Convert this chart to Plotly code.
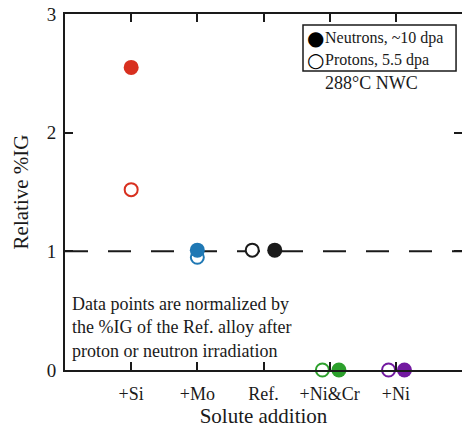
import plotly.graph_objects as go

# Solute additions (x categories) and relative %IG values
categories = ["+Si", "+Mo", "Ref.", "+Ni&Cr", "+Ni"]
neutron_ig = [2.55, 1.01, 1.01, 0.0, 0.0]
proton_ig = [1.52, 0.95, 1.01, 0.0, 0.0]
point_colors = ["#d8301f", "#1f78b4", "#1a1a1a", "#2ca02c", "#7219a0"]
y_ticks = [0, 1, 2, 3]
legend_labels = ["Neutrons, ~10 dpa", "Protons, 5.5 dpa"]
legend_glyphs = ["●", "○"]

# small horizontal dodge so overlapping neutron/proton points stay visible
neutron_dodge = [0.0, 0.0, 0.17, 0.14, 0.13]
proton_dodge = [0.0, 0.0, -0.17, -0.11, -0.11]

xpos = list(range(1, len(categories) + 1))
FONT = "Liberation Serif"
INK = "#1a1a1a"

fig = go.Figure()

# reference line at relative %IG = 1
fig.add_trace(go.Scatter(
    x=[0, 6], y=[1, 1], mode="lines",
    line=dict(color=INK, width=2, dash="23px,20px"),
    showlegend=False, hoverinfo="skip",
))

fig.add_trace(go.Scatter(
    x=[p + d for p, d in zip(xpos, proton_dodge)], y=proton_ig, mode="markers",
    marker=dict(size=13, color="white", line=dict(color=point_colors, width=2)),
    showlegend=False, cliponaxis=False,
))
fig.add_trace(go.Scatter(
    x=[p + d for p, d in zip(xpos, neutron_dodge)], y=neutron_ig, mode="markers",
    marker=dict(size=15, color=point_colors, line=dict(width=0)),
    showlegend=False, cliponaxis=False,
))

# mirrored top/right axes carrying inward ticks
fig.add_trace(go.Scatter(x=[None], y=[None], xaxis="x2", yaxis="y2", showlegend=False))

axis_common = dict(
    ticks="inside", ticklen=8, tickwidth=2, tickcolor=INK,
    showgrid=False, zeroline=False,
)

# boxed key in the upper right corner
key_rows_y = [0.933, 0.871]
annotations = []
for glyph, label, ky in zip(legend_glyphs, legend_labels, key_rows_y):
    annotations.append(dict(
        text=glyph, x=0.631, y=ky, xref="paper", yref="paper",
        xanchor="center", yanchor="middle", showarrow=False,
        font=dict(size=20, color="black", family="DejaVu Sans"),
    ))
    annotations.append(dict(
        text=label, x=0.650, y=ky, xref="paper", yref="paper",
        xanchor="left", yanchor="middle", showarrow=False,
        font=dict(size=16),
    ))
annotations += [
    dict(
        text="288°C NWC", x=0.771, y=0.806, xref="paper", yref="paper",
        xanchor="center", yanchor="middle", showarrow=False,
        font=dict(size=18),
    ),
    dict(
        text="Data points are normalized by<br>the %IG of the Ref. alloy after"
             "<br>proton or neutron irradiation",
        x=0.012, y=0.118, xref="paper", yref="paper",
        xanchor="left", yanchor="middle", align="left", showarrow=False,
        font=dict(size=18),
    ),
]

fig.update_layout(
    width=462, height=429,
    margin=dict(l=65, r=0, t=14, b=59),
    plot_bgcolor="white", paper_bgcolor="white",
    font=dict(family=FONT, size=16, color=INK),
    showlegend=False,
    xaxis=dict(
        range=[0, 6], tickvals=xpos, ticktext=categories,
        showline=True, linecolor=INK, linewidth=2,
        tickfont=dict(size=18), ticklabelstandoff=6,
        title=dict(text="Solute addition", font=dict(size=21), standoff=4),
        **axis_common,
    ),
    yaxis=dict(
        range=[0, 3], tickvals=y_ticks,
        showline=True, linecolor=INK, linewidth=2,
        tickfont=dict(size=19), ticklabelstandoff=3,
        title=dict(text="Relative %IG", font=dict(size=21), standoff=12),
        **axis_common,
    ),
    xaxis2=dict(
        range=[0, 6], tickvals=xpos, overlaying="x", side="top",
        showline=True, linecolor=INK, linewidth=2, showticklabels=False,
        **axis_common,
    ),
    yaxis2=dict(
        range=[0, 3], tickvals=y_ticks, overlaying="y", side="right",
        showline=False, showticklabels=False,
        **axis_common,
    ),
    shapes=[dict(
        type="rect", xref="paper", yref="paper",
        x0=0.5995, x1=0.985, y0=0.840, y1=0.969,
        line=dict(color=INK, width=1.5), fillcolor="white", layer="above",
    )],
    annotations=annotations,
)

fig.write_html("out.html")
